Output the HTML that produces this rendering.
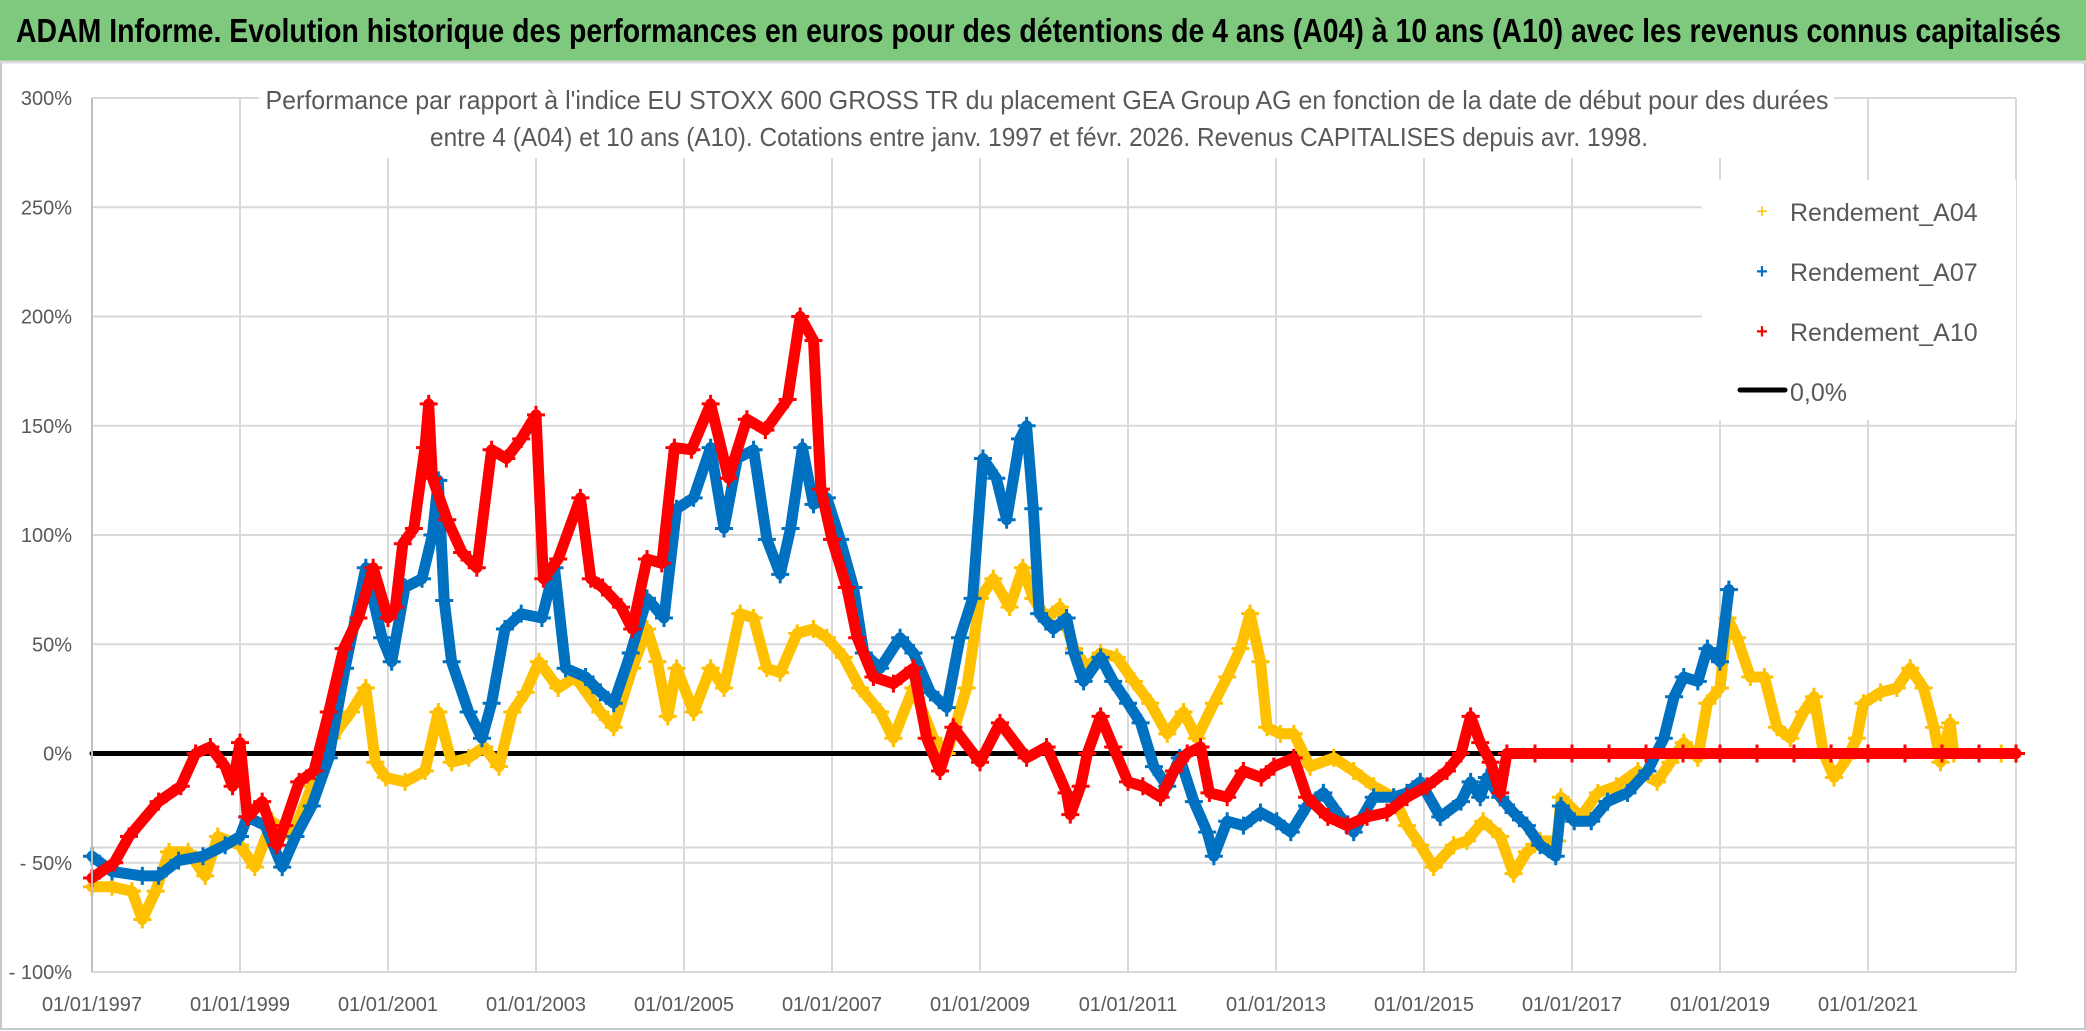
<!DOCTYPE html>
<html><head><meta charset="utf-8"><style>
html,body{margin:0;padding:0;background:#fff;}
svg{display:block;font-family:"Liberation Sans",sans-serif;}
</style></head><body>
<svg id="chart" width="2086" height="1031" viewBox="0 0 2086 1031" xmlns="http://www.w3.org/2000/svg">
<rect x="0" y="0" width="2086" height="1031" fill="#fff"/>
<rect x="1" y="1" width="2084" height="1028" fill="none" stroke="#c8c8c8" stroke-width="2"/>
<rect x="0" y="0" width="2086" height="61" fill="#7fc97f"/>
<line x1="0" y1="62" x2="2086" y2="62" stroke="#d9d9d9" stroke-width="3"/>
<text x="16" y="42" font-size="33" font-weight="bold" fill="#000" textLength="2045" lengthAdjust="spacingAndGlyphs">ADAM Informe. Evolution historique des performances en euros pour des détentions de 4 ans (A04) à 10 ans (A10) avec les revenus connus capitalisés</text>
<g id="grid"></g>
<g id="series"></g>
<rect x="259" y="70" width="1575" height="88" fill="#fff"/>
<text x="1047" y="109" font-size="26" fill="#595959" text-anchor="middle" textLength="1563" lengthAdjust="spacingAndGlyphs">Performance par rapport à l'indice EU STOXX 600 GROSS TR  du placement GEA Group AG en fonction de la date de début pour des durées</text>
<text x="1039" y="146" font-size="26" fill="#595959" text-anchor="middle" textLength="1218" lengthAdjust="spacingAndGlyphs">entre 4 (A04) et 10 ans (A10). Cotations entre janv. 1997 et févr. 2026. Revenus CAPITALISES depuis avr. 1998.</text>
<g id="axes"></g>
<g>
<rect x="1702" y="180" width="314" height="240" fill="#fff"/>
<g>
<text x="1762" y="218" font-size="20" fill="#ffc000" text-anchor="middle">+</text>
<text x="1790" y="221" font-size="25" fill="#595959">Rendement_A04</text></g>
<g>
<text x="1762" y="278" font-size="20" font-weight="bold" fill="#0070c0" text-anchor="middle">+</text>
<text x="1790" y="281" font-size="25" fill="#595959">Rendement_A07</text></g>
<g>
<text x="1762" y="338" font-size="20" font-weight="bold" fill="#ff0000" text-anchor="middle">+</text>
<text x="1790" y="341" font-size="25" fill="#595959">Rendement_A10</text></g>
<g>
<line x1="1740" y1="390" x2="1785" y2="390" stroke="#000" stroke-width="5" stroke-linecap="round"/>
<text x="1790" y="401" font-size="25" fill="#595959">0,0%</text></g>
</g>
</svg>
<script>
const yTicks = [300, 250, 200, 150, 100, 50, 0, -50, -100];
const yTickLabels = ["300%", "250%", "200%", "150%", "100%", "50%", "0%", "- 50%", "- 100%"];
const xTickYears = [1997, 1999, 2001, 2003, 2005, 2007, 2009, 2011, 2013, 2015, 2017, 2019, 2021, 2023];
const xTickLabels = ["01/01/1997","01/01/1999","01/01/2001","01/01/2003","01/01/2005","01/01/2007","01/01/2009","01/01/2011","01/01/2013","01/01/2015","01/01/2017","01/01/2019","01/01/2021",""];

const a04Years = [1997.0,1997.27,1997.54,1997.68,1997.86,1998.04,1998.3,1998.53,1998.7,1999.0,1999.2,1999.43,1999.7,1999.97,2000.24,2000.5,2000.7,2000.83,2000.97,2001.23,2001.5,2001.68,2001.86,2002.09,2002.3,2002.5,2002.68,2002.86,2003.04,2003.3,2003.53,2003.87,2004.05,2004.3,2004.5,2004.64,2004.78,2004.9,2005.13,2005.36,2005.54,2005.76,2005.94,2006.12,2006.3,2006.53,2006.75,2006.93,2007.16,2007.38,2007.65,2007.83,2008.1,2008.37,2008.55,2008.82,2009.0,2009.18,2009.4,2009.58,2009.72,2009.9,2010.08,2010.27,2010.45,2010.63,2010.85,2011.08,2011.3,2011.53,2011.75,2011.93,2012.16,2012.34,2012.52,2012.65,2012.79,2012.88,2013.06,2013.24,2013.46,2013.78,2014.05,2014.32,2014.59,2014.77,2014.95,2015.13,2015.4,2015.58,2015.8,2016.03,2016.21,2016.39,2016.57,2016.8,2016.85,2017.12,2017.35,2017.6,2017.89,2018.15,2018.33,2018.51,2018.7,2018.83,2019.0,2019.1,2019.23,2019.41,2019.6,2019.77,2019.95,2020.13,2020.27,2020.4,2020.54,2020.72,2020.85,2020.94,2021.17,2021.39,2021.57,2021.75,2021.89,2021.98,2022.11,2022.16,2022.5,2022.8,2023.0];
const a04Values = [-61,-61,-63,-76,-63,-45,-45,-56,-38,-42,-52,-31,-38,-15,7,19,30,-4,-11,-13,-8,19,-4,-2,3,-6,19,28,42,30,35,19,12,39,57,42,17,39,19,39,30,64,62,39,37,55,57,53,44,30,19,7,30,7,0,30,71,80,67,85,71,62,67,48,39,46,44,33,23,9,19,7,23,35,48,64,42,12,9,9,-6,-2,-8,-15,-20,-33,-42,-52,-42,-40,-31,-38,-55,-45,-40,-40,-20,-29,-18,-15,-8,-13,-4,5,-2,23,30,62,53,35,35,12,7,19,26,0,-11,-2,7,23,28,30,39,30,12,-4,14,0,0,0,0];

const a07Years = [1997.0,1997.27,1997.68,1997.9,1998.17,1998.5,1998.8,1999.0,1999.1,1999.34,1999.57,1999.75,1999.97,2000.2,2000.42,2000.7,2000.92,2001.05,2001.23,2001.46,2001.6,2001.68,2001.76,2001.86,2002.09,2002.27,2002.4,2002.58,2002.8,2003.08,2003.25,2003.4,2003.67,2003.87,2004.05,2004.28,2004.5,2004.73,2004.9,2005.13,2005.36,2005.54,2005.72,2005.94,2006.12,2006.3,2006.44,2006.6,2006.75,2006.93,2007.11,2007.29,2007.43,2007.65,2007.92,2008.1,2008.33,2008.55,2008.73,2008.9,2009.04,2009.22,2009.36,2009.54,2009.63,2009.72,2009.8,2009.99,2010.17,2010.27,2010.4,2010.63,2010.8,2011.0,2011.17,2011.35,2011.53,2011.7,2011.89,2012.07,2012.16,2012.34,2012.56,2012.79,2013.01,2013.2,2013.42,2013.64,2013.87,2014.05,2014.32,2014.59,2014.77,2014.95,2015.22,2015.5,2015.63,2015.76,2015.85,2016.03,2016.21,2016.39,2016.57,2016.78,2016.85,2017.03,2017.26,2017.48,2017.75,2018.02,2018.24,2018.38,2018.51,2018.7,2018.83,2019.0,2019.12];
const a07Values = [-47,-54,-56,-56,-49,-47,-42,-38,-29,-33,-52,-38,-24,-2,39,85,53,42,76,80,100,125,70,42,19,7,23,57,64,62,85,39,35,28,23,46,71,62,112,117,140,103,135,139,98,82,103,140,114,117,98,76,46,39,53,46,28,21,53,71,135,126,107,144,150,112,64,57,62,46,33,44,33,23,14,-6,-15,-2,-22,-36,-47,-31,-33,-27,-31,-36,-24,-18,-29,-36,-20,-20,-18,-13,-29,-22,-13,-20,-11,-20,-27,-33,-42,-47,-24,-31,-31,-22,-18,-8,7,26,35,33,48,42,75];

const a10Years = [1997.0,1997.3,1997.5,1997.9,1998.2,1998.4,1998.6,1998.8,1998.9,1999.0,1999.1,1999.3,1999.5,1999.6,1999.8,2000.0,2000.2,2000.4,2000.6,2000.8,2001.0,2001.1,2001.2,2001.35,2001.5,2001.55,2001.6,2001.8,2002.0,2002.2,2002.4,2002.6,2002.8,2003.0,2003.1,2003.3,2003.6,2003.74,2003.9,2004.15,2004.3,2004.5,2004.7,2004.87,2005.1,2005.36,2005.6,2005.85,2006.1,2006.4,2006.57,2006.75,2006.85,2007.0,2007.2,2007.34,2007.56,2007.83,2008.1,2008.28,2008.46,2008.64,2009.0,2009.27,2009.63,2009.9,2010.17,2010.22,2010.36,2010.45,2010.63,2010.8,2011.0,2011.2,2011.44,2011.62,2011.8,2011.98,2012.1,2012.34,2012.56,2012.8,2012.97,2013.24,2013.42,2013.7,2013.96,2014.23,2014.5,2014.77,2015.04,2015.31,2015.5,2015.63,2015.76,2015.9,2016.03,2016.12,2016.5,2017.0,2017.5,2018.0,2018.5,2019.0,2019.5,2020.0,2020.5,2021.0,2021.5,2022.0,2022.5,2023.0];
const a10Values = [-57,-50,-38,-22,-15,0,3,-6,-15,5,-29,-22,-42,-33,-13,-8,19,48,62,85,62,67,96,103,140,160,126,107,92,85,139,135,144,155,80,89,117,80,76,67,57,89,87,140,139,160,126,153,148,162,200,189,121,98,76,53,35,32,39,7,-8,12,-4,14,-2,3,-18,-28,-15,0,17,3,-13,-15,-20,-8,0,3,-18,-20,-8,-11,-6,-2,-20,-29,-33,-29,-27,-20,-15,-8,0,17,5,-4,-18,0,0,0,0,0,0,0,0,0,0,0,0,0,0,0];

const NS = "http://www.w3.org/2000/svg";
const X0 = 92, X1 = 2016, Y300 = 98, YM100 = 972;
function xScale(yr){ return X0 + (yr - 1997) / (2023 - 1997) * (X1 - X0); }
function yScale(v){ return YM100 - (v + 100) / 400 * (YM100 - Y300); }
function mk(tag, attrs, parent){ const e = document.createElementNS(NS, tag); for (const k in attrs) e.setAttribute(k, attrs[k]); parent.appendChild(e); return e; }

const grid = document.getElementById('grid');
yTicks.forEach(function(v){
  const l = mk('line', {x1: X0, x2: X1, y1: yScale(v), y2: yScale(v), stroke: '#d9d9d9', 'stroke-width': 2}, grid);
  
  
});
const extra = mk('line', {x1: X0, x2: X1, y1: yScale(-43), y2: yScale(-43), stroke: '#d9d9d9', 'stroke-width': 2}, grid);


xTickYears.forEach(function(yr){
  const l = mk('line', {x1: xScale(yr), x2: xScale(yr), y1: Y300, y2: YM100, stroke: '#d9d9d9', 'stroke-width': 2}, grid);
  
  
});

const axes = document.getElementById('axes');
const ya = mk('line', {x1: X0, x2: X0, y1: Y300, y2: YM100, stroke: '#bfbfbf', 'stroke-width': 2}, axes);


yTicks.forEach(function(v, i){
  const t = mk('text', {x: 72, y: yScale(v) + 7, 'font-size': 20, fill: '#595959', 'text-anchor': 'end'}, axes);
  t.textContent = yTickLabels[i];
  
  
});
xTickYears.forEach(function(yr, i){
  if (!xTickLabels[i]) return;
  const t = mk('text', {x: xScale(yr), y: 1011, 'font-size': 20, fill: '#595959', 'text-anchor': 'middle'}, axes);
  t.textContent = xTickLabels[i];
  
  
});

const series = document.getElementById('series');
function drawSeries(years, vals, color, name){
  const g = mk('g', {}, series);
  
  
  const pts = years.map(function(y, i){ return xScale(y).toFixed(1) + ',' + yScale(vals[i]).toFixed(1); }).join(' ');
  const pl = mk('polyline', {points: pts, fill: 'none', stroke: color, 'stroke-width': 11, 'stroke-linejoin': 'round', 'stroke-linecap': 'round'}, g);
  
  
  years.forEach(function(y, i){
    const cx = xScale(y), cy = yScale(vals[i]);
    const p = mk('path', {d: 'M' + (cx - 9) + ' ' + cy + 'h18M' + cx + ' ' + (cy - 9) + 'v18', stroke: color, 'stroke-width': 3}, g);
    
    
  });
}
const zl = mk('line', {x1: X0, x2: X1, y1: yScale(0), y2: yScale(0), stroke: '#000', 'stroke-width': 5, 'stroke-linecap': 'round'}, series);


drawSeries(a04Years, a04Values, '#ffc000', 'series-a04');
drawSeries(a07Years, a07Values, '#0070c0', 'series-a07');
drawSeries(a10Years, a10Values, '#ff0000', 'series-a10');
</script>
</body></html>
